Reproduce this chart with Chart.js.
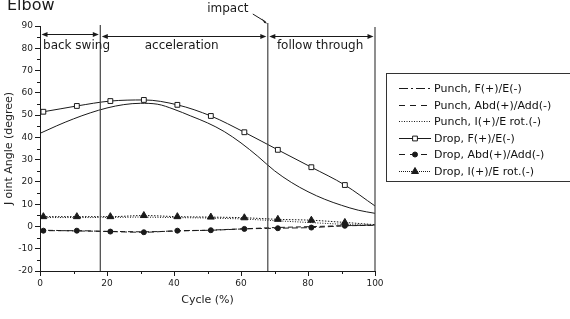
<!DOCTYPE html>
<html>
<head>
<meta charset="utf-8">
<script src="https://cdn.jsdelivr.net/npm/chart.js@4.4.1/dist/chart.umd.min.js"></script>
<style>
  html, body { margin: 0; padding: 0; background: #fff; }
  canvas { display: block; }
</style>
</head>
<body>
<canvas id="c" width="570" height="319"></canvas>
<script>
// Elbow joint angle over the pitch cycle, punch vs drop.

const punchX = [0, 5, 10, 15, 20, 25, 30, 35, 40, 45, 50, 55, 60, 65, 70, 75, 80, 85, 90, 95, 100];
const punchFE = [41.8, 45.2, 48.3, 51.0, 53.2, 54.7, 55.3, 54.9, 52.6, 49.6, 46.5, 42.6, 37.5, 31.5, 25.0, 19.8, 15.6, 12.2, 9.5, 7.3, 5.9];
const punchAbd = [-1.7, -1.8, -2.0, -2.1, -2.2, -2.3, -2.4, -2.3, -2.1, -1.9, -1.7, -1.4, -1.1, -0.8, -0.5, -0.3, -0.1, 0.1, 0.3, 0.4, 0.5];
const punchRot = [4.0, 4.0, 4.0, 4.0, 4.1, 4.1, 4.2, 4.1, 4.0, 3.9, 3.8, 3.6, 3.4, 3.0, 2.6, 2.2, 1.8, 1.4, 1.0, 0.7, 0.5];

const dropX = [0, 1, 11, 21, 31, 41, 51, 61, 71, 81, 91, 100];
const dropFE = [51.3, 51.5, 54.1, 56.3, 56.8, 54.6, 49.6, 42.3, 34.4, 26.6, 18.6, 9.2];
const dropAbd = [-1.9, -1.9, -1.9, -2.3, -2.6, -1.9, -1.7, -1.1, -0.8, -0.5, 0.3, 0.7];
const dropRot = [4.4, 4.4, 4.4, 4.4, 4.9, 4.4, 4.2, 3.9, 3.2, 2.8, 1.8, 0.8];

const phaseEdges = [0, 18, 68, 100];
const phaseLabels = ["back swing", "acceleration", "follow through"];
const phaseLabelX = [10.9, 42.3, 83.6];
const impactAt = 68;

const ink = "#1a1a1a";
const FONT = '"DejaVu Sans", Verdana, sans-serif';

function series(label, xs, ys, style) {
  return Object.assign({
    label,
    data: xs.map((x, i) => ({ x, y: ys[i] })),
    borderColor: ink, backgroundColor: ink,
    pointBorderColor: ink, pointBackgroundColor: ink,
    borderWidth: 1, pointRadius: 0, pointBorderWidth: 1,
    cubicInterpolationMode: "monotone", fill: false,
  }, style);
}
// no marker on the end points of the drop curves
const marks = (r) => dropX.map((x, i) => (i === 0 || i === dropX.length - 1 ? 0 : r));

const datasets = [
  series("Punch, F(+)/E(-)", punchX, punchFE, { legendDash: [9, 3, 2, 3] }),
  series("Punch, Abd(+)/Add(-)", punchX, punchAbd, { borderDash: [5, 3], legendDash: [6, 5] }),
  series("Punch, I(+)/E rot.(-)", punchX, punchRot, { borderDash: [1, 1.5], legendDash: [1, 1.5] }),
  series("Drop, F(+)/E(-)", dropX, dropFE, { pointStyle: "rect", pointRadius: marks(3.4), pointBackgroundColor: "#fff", legendMark: 3.4 }),
  series("Drop, Abd(+)/Add(-)", dropX, dropAbd, { borderDash: [6, 3], pointStyle: "circle", pointRadius: marks(2.5), legendDash: [6, 5], legendMark: 2.5 }),
  series("Drop, I(+)/E rot.(-)", dropX, dropRot, { borderDash: [1.5, 1.5], pointStyle: "triangle", pointRadius: marks(4), legendDash: [1, 1], legendMark: 4 }),
];

function marker(ctx, style, r, x, y, fill) {
  ctx.beginPath();
  if (style === "rect") {
    const s = r * Math.SQRT1_2;
    ctx.rect(x - s, y - s, 2 * s, 2 * s);
  } else if (style === "triangle") {
    ctx.moveTo(x, y - r);
    ctx.lineTo(x + r * 0.866, y + r * 0.5);
    ctx.lineTo(x - r * 0.866, y + r * 0.5);
    ctx.closePath();
  } else {
    ctx.arc(x, y, r, 0, Math.PI * 2);
  }
  ctx.fillStyle = fill;
  ctx.fill();
  ctx.stroke();
}

function arrowHead(ctx, x, y, dir) {
  ctx.beginPath();
  ctx.moveTo(x, y);
  ctx.lineTo(x - dir * 6, y - 2.5);
  ctx.lineTo(x - dir * 6, y + 2.5);
  ctx.closePath();
  ctx.fill();
}

const minorTicks = {
  id: "minorTicks",
  afterDraw(chart) {
    const { ctx, scales: { x, y } } = chart;
    ctx.save();
    ctx.strokeStyle = ink;
    ctx.lineWidth = 1;
    ctx.beginPath();
    x.ticks.forEach((t) => {
      if (t.value % 20 !== 0) {
        const px = Math.round(x.getPixelForValue(t.value)) + 0.5;
        ctx.moveTo(px, x.top); ctx.lineTo(px, x.top + 3);
      }
    });
    y.ticks.forEach((t) => {
      if (t.value % 10 !== 0) {
        const py = Math.round(y.getPixelForValue(t.value)) + 0.5;
        ctx.moveTo(y.right, py); ctx.lineTo(y.right - 3, py);
      }
    });
    ctx.stroke();
    ctx.restore();
  },
};

const phases = {
  id: "phases",
  afterDraw(chart) {
    const { ctx, chartArea, scales: { x } } = chart;
    const px = phaseEdges.map((v) => x.getPixelForValue(v));
    ctx.save();
    ctx.strokeStyle = "#444";
    ctx.fillStyle = ink;
    ctx.lineWidth = 1.2;
    // boundary lines
    const tops = [null, 25, 23, 27];
    for (let i = 1; i < px.length; i++) {
      ctx.beginPath();
      ctx.moveTo(px[i], tops[i]);
      ctx.lineTo(px[i], chartArea.bottom);
      ctx.stroke();
    }
    // double arrows
    ctx.strokeStyle = ink;
    ctx.lineWidth = 1;
    const ys = [34.5, 36.5, 36.5];
    for (let i = 0; i < phaseLabels.length; i++) {
      const a = px[i] + 1.5, b = px[i + 1] - 1.5, yy = ys[i];
      ctx.beginPath();
      ctx.moveTo(a + 3, yy); ctx.lineTo(b - 3, yy);
      ctx.stroke();
      arrowHead(ctx, a, yy, -1);
      arrowHead(ctx, b, yy, 1);
    }
    ctx.font = "12px " + FONT;
    ctx.textAlign = "center";
    ctx.textBaseline = "middle";
    phaseLabels.forEach((t, i) => ctx.fillText(t, x.getPixelForValue(phaseLabelX[i]), 46));
    // impact note
    const ix = x.getPixelForValue(impactAt);
    ctx.fillText("impact", ix - 40, 9);
    ctx.beginPath();
    ctx.moveTo(ix - 15, 14);
    ctx.lineTo(ix - 2, 22);
    ctx.stroke();
    ctx.beginPath();
    ctx.moveTo(ix - 0.5, 23.5);
    ctx.lineTo(ix - 6, 18.5);
    ctx.lineTo(ix - 3.5, 23);
    ctx.closePath();
    ctx.fill();
    // panel title
    ctx.textAlign = "left";
    ctx.textBaseline = "alphabetic";
    ctx.font = "16px " + FONT;
    ctx.fillText("Elbow", 7, 9.5);
    ctx.restore();
  },
};

const boxLegend = {
  id: "boxLegend",
  afterDraw(chart) {
    const ctx = chart.ctx;
    ctx.save();
    ctx.strokeStyle = "#333";
    ctx.lineWidth = 1;
    ctx.strokeRect(386.5, 73.5, 220, 108);
    chart.data.datasets.forEach((ds, i) => {
      const y = Math.round(88 + i * 16.6) + 0.5;
      ctx.strokeStyle = ink;
      ctx.setLineDash(ds.legendDash || []);
      ctx.beginPath();
      ctx.moveTo(399, y); ctx.lineTo(431, y);
      ctx.stroke();
      ctx.setLineDash([]);
      if (ds.legendMark) marker(ctx, ds.pointStyle, ds.legendMark, 415, y, ds.pointBackgroundColor);
      ctx.fillStyle = "#111";
      ctx.font = "11px " + FONT;
      ctx.textBaseline = "middle";
      ctx.fillText(ds.label, 434, y + 0.5);
    });
    ctx.restore();
  },
};

const tickFont = { family: FONT, size: 9 };
const titleFont = { family: FONT, size: 11 };

new Chart(document.getElementById("c"), {
  type: "line",
  data: { datasets },
  options: {
    responsive: false,
    animation: false,
    devicePixelRatio: 1,
    layout: { padding: { top: 26, right: 195, left: 0, bottom: 0 } },
    plugins: { legend: { display: false }, tooltip: { enabled: false } },
    scales: {
      x: {
        type: "linear", min: 0, max: 100,
        border: { color: ink, width: 1 },
        grid: { drawOnChartArea: false, tickLength: 5, tickColor: (c) => (c.tick && c.tick.value % 20 === 0 ? ink : "rgba(0,0,0,0)") },
        ticks: { stepSize: 10, autoSkip: false, maxRotation: 0, padding: 2, color: "#222", font: tickFont,
          callback: (v) => (v % 20 === 0 ? v : "") },
        title: { display: true, text: "Cycle (%)", color: "#222", font: titleFont, padding: { top: 0, bottom: 12 } },
        afterFit: (s) => { s.height = 48; },
      },
      y: {
        min: -20, max: 90,
        border: { color: ink, width: 1 },
        grid: { drawOnChartArea: false, tickLength: 5, tickColor: (c) => (c.tick && c.tick.value % 10 === 0 ? ink : "rgba(0,0,0,0)") },
        ticks: { stepSize: 5, autoSkip: false, padding: 2, color: "#222", font: tickFont,
          callback: (v) => (v % 10 === 0 ? v : "") },
        title: { display: true, text: "J oint Angle (degree)", color: "#222", font: titleFont, padding: { top: 2.5, bottom: 0 } },
        afterFit: (s) => { s.width = 40; },
      },
    },
  },
  plugins: [minorTicks, phases, boxLegend],
});
</script>
</body>
</html>
